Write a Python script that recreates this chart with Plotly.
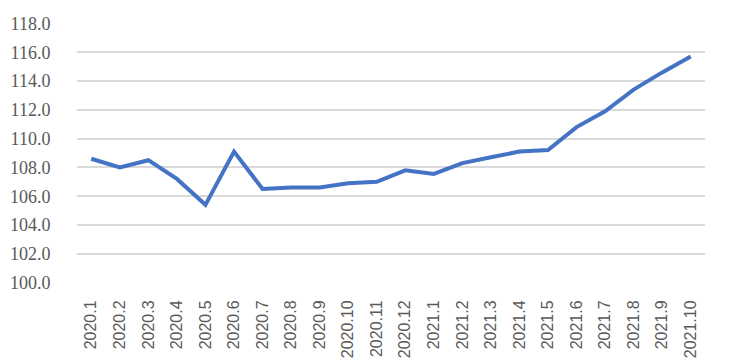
import plotly.graph_objects as go

categories = ["2020.1", "2020.2", "2020.3", "2020.4", "2020.5", "2020.6", "2020.7", "2020.8",
              "2020.9", "2020.10", "2020.11", "2020.12", "2021.1", "2021.2", "2021.3", "2021.4",
              "2021.5", "2021.6", "2021.7", "2021.8", "2021.9", "2021.10"]
values = [108.6, 108.0, 108.5, 107.2, 105.4, 109.1, 106.5, 106.6, 106.6, 106.9, 107.0, 107.8,
          107.55, 108.3, 108.7, 109.1, 109.2, 110.8, 111.9, 113.4, 114.6, 115.7]
y_ticks = [100, 102, 104, 106, 108, 110, 112, 114, 116, 118]

fig = go.Figure()
fig.add_trace(go.Scatter(x=categories, y=values, mode="lines",
                         line=dict(color="#4472C4", width=4, shape="linear")))

fig.update_layout(
    width=733, height=364,
    margin=dict(l=77, r=28, t=23, b=81),
    plot_bgcolor="white", paper_bgcolor="white",
    showlegend=False,
)
fig.update_xaxes(
    type="category", range=[-0.5, len(categories) - 0.5], automargin=False,
    tickangle=-90, showgrid=False, showline=False, zeroline=False,
    tickfont=dict(family="Liberation Sans", size=16, color="#595959"),
    ticks="outside", ticklen=10, tickcolor="rgba(0,0,0,0)",
)
fig.update_yaxes(
    range=[99.97, 118.03], tickvals=y_ticks, ticktext=[f"{v:.1f}" for v in y_ticks],
    automargin=False,
    showgrid=True, gridcolor="#d9d9d9", gridwidth=1.5, zeroline=False, showline=False,
    tickfont=dict(family="Liberation Serif", size=18, color="#595959"),
    ticks="outside", ticklen=22, tickcolor="rgba(0,0,0,0)",
)

fig.write_html("out.html")
